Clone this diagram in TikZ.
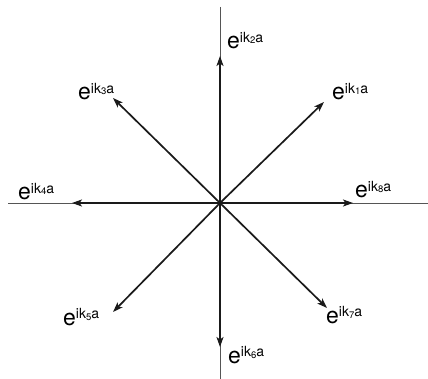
\documentclass[tikz,border=0pt]{standalone}
\usepackage{fontspec}
\setmainfont{TeX Gyre Heros}
\usepackage{xcolor}
\usepackage{tikz}
\usetikzlibrary{arrows.meta}
\definecolor{axisgray}{HTML}{555555}
\definecolor{vecblack}{HTML}{1A1A1A}
\newcommand{\ekexp}[1]{e\raisebox{6.5pt}{\fontsize{14}{14}\selectfont ik\raisebox{-1.5pt}{\fontsize{9.5}{9.5}\selectfont #1}a}}
\tikzset{
  axisline/.style={draw=axisgray, line width=0.8pt},
  wavevec/.style={
    -{Stealth[length=10pt, width=7pt, inset=2.5pt]}, draw=vecblack, line width=1.7pt
  },
  phaselabel/.style={
    anchor=base west, inner sep=0pt, font=\fontsize{23}{25}\selectfont
  },
}
\begin{document}
\begin{tikzpicture}[x=1pt, y=-1pt]
  \useasboundingbox (0,0) rectangle (428,379);

  % Axes
  \coordinate (o) at (220,203);
  \coordinate (axl) at (8,203);
  \coordinate (axr) at (428,203);
  \coordinate (axt) at (220,7);
  \coordinate (axb) at (220,379);
  \draw[axisline] (axl) -- (axr);
  \draw[axisline] (axt) -- (axb);

  % Arrow tips
  \coordinate (t1) at (324,102);
  \coordinate (t2) at (220,56);
  \coordinate (t3) at (113,98);
  \coordinate (t4) at (72,203);
  \coordinate (t5) at (113,312);
  \coordinate (t6) at (220,347);
  \coordinate (t7) at (327,308);
  \coordinate (t8) at (353,203);

  % Vectors
  \draw[wavevec] (o) -- (t1);
  \draw[wavevec] (o) -- (t2);
  \draw[wavevec] (o) -- (t3);
  \draw[wavevec] (o) -- (t4);
  \draw[wavevec] (o) -- (t5);
  \draw[wavevec] (o) -- (t6);
  \draw[wavevec] (o) -- (t7);
  \draw[wavevec] (o) -- (t8);

  % Labels
  \node[phaselabel] at (332,100) (l1) {\ekexp{1}};
  \node[phaselabel] at (227,49) (l2) {\ekexp{2}};
  \node[phaselabel] at (78,100) (l3) {\ekexp{3}};
  \node[phaselabel] at (18,200) (l4) {\ekexp{4}};
  \node[phaselabel] at (63,325) (l5) {\ekexp{5}};
  \node[phaselabel] at (228,363) (l6) {\ekexp{6}};
  \node[phaselabel] at (326,323) (l7) {\ekexp{7}};
  \node[phaselabel] at (355,198) (l8) {\ekexp{8}};
\end{tikzpicture}
\end{document}
